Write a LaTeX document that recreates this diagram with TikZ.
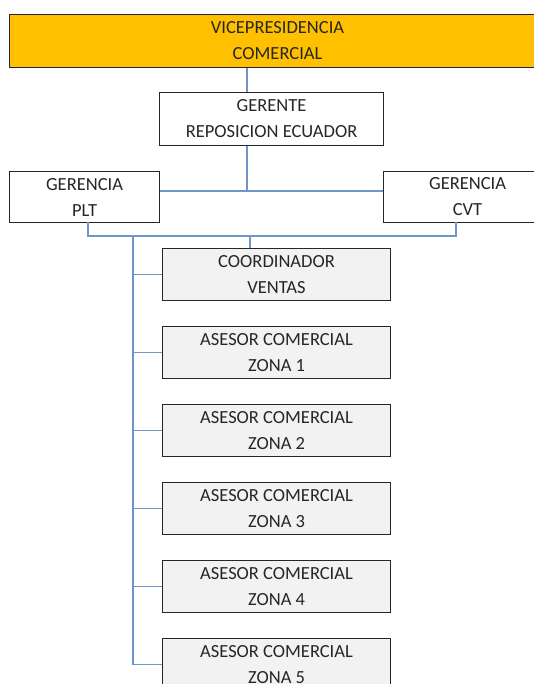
\documentclass[tikz,border=0pt]{standalone}
\usepackage{fontspec}
\setmainfont{Carlito}
\definecolor{gold}{HTML}{FFC000}
\definecolor{lightbox}{HTML}{F2F2F2}
\definecolor{conn}{HTML}{6F96C8}
\begin{document}
\begin{tikzpicture}[x=1pt,y=-1pt,
  box/.style={draw=black!85,line width=1.1pt,anchor=north west,inner sep=0pt,align=center,
    font=\fontsize{18.5}{26}\selectfont,text=black!85},
  wire/.style={draw=conn,line width=1.1pt}]
\useasboundingbox (0,0) rectangle (534,684);
\clip (0,0) rectangle (534,684);
\node[box,fill=gold,minimum width=536pt,minimum height=53pt] (vp) at (9,14) {VICEPRESIDENCIA\\COMERCIAL};
\node[box,fill=white,minimum width=224pt,minimum height=53pt] (ger) at (159,92) {GERENTE\\REPOSICION ECUADOR};
\node[box,fill=white,minimum width=150pt,minimum height=51pt] (plt) at (9,171) {GERENCIA\\PLT};
\node[box,fill=white,minimum width=168pt,minimum height=51pt] (cvt) at (383,171) {GERENCIA\\CVT};
\node[box,fill=lightbox,minimum width=228pt,minimum height=52pt] (coord) at (162,248) {COORDINADOR\\VENTAS};
\node[box,fill=lightbox,minimum width=228pt,minimum height=52pt] (z1) at (162,326) {ASESOR COMERCIAL\\ZONA 1};
\node[box,fill=lightbox,minimum width=228pt,minimum height=52pt] (z2) at (162,404) {ASESOR COMERCIAL\\ZONA 2};
\node[box,fill=lightbox,minimum width=228pt,minimum height=52pt] (z3) at (162,482) {ASESOR COMERCIAL\\ZONA 3};
\node[box,fill=lightbox,minimum width=228pt,minimum height=52pt] (z4) at (162,560) {ASESOR COMERCIAL\\ZONA 4};
\node[box,fill=lightbox,minimum width=228pt,minimum height=52pt] (z5) at (162,638) {ASESOR COMERCIAL\\ZONA 5};
\coordinate (jx) at (247,191);
\coordinate (bar) at (0,236);
\coordinate (trunk) at (133,0);
\draw[wire] (vp.south -| jx) -- (ger.north -| jx);
\draw[wire] (ger.south -| jx) -- (jx);
\draw[wire] (plt.east |- jx) -- (cvt.west |- jx);
\draw[wire] (88,222) |- (456,236) -- (456,222);
\draw[wire] (250,236) -- (coord.north -| 250,0);
\draw[wire] (trunk |- bar) -- (trunk |- z5.west) -- (z5.west);
\foreach \n in {coord,z1,z2,z3,z4} \draw[wire] (trunk |- \n.west) -- (\n.west);
\end{tikzpicture}
\end{document}
